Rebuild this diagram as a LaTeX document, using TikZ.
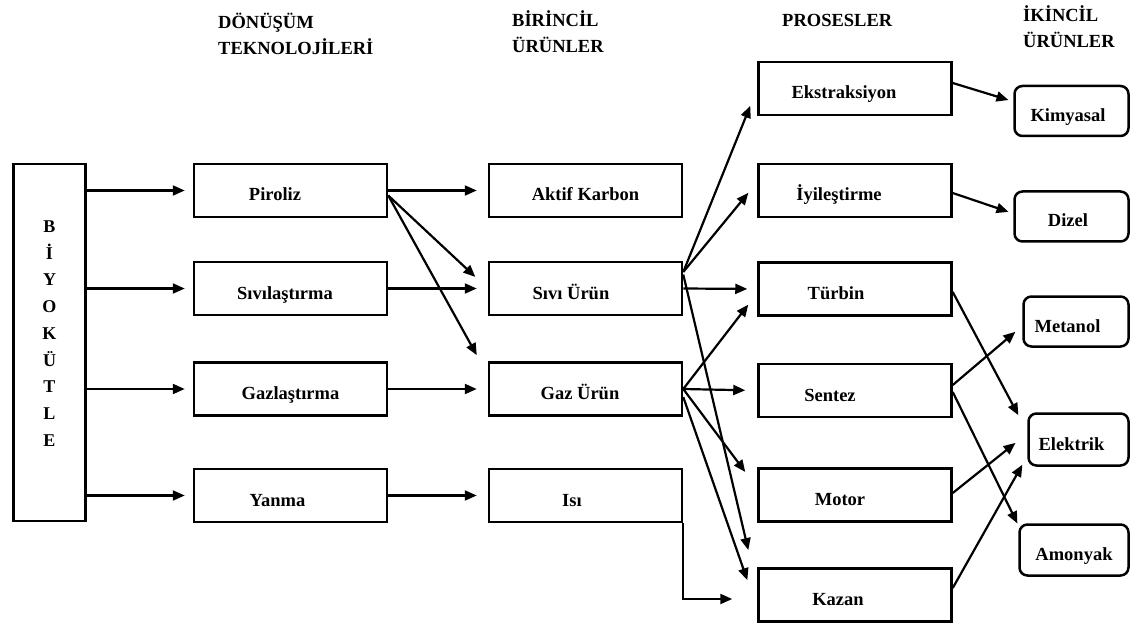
\documentclass[tikz,border=0pt]{standalone}
\usepackage{fontspec}
\setmainfont{Liberation Serif}
\usetikzlibrary{arrows.meta}

\begin{document}
\begin{tikzpicture}[x=1pt,y=-1pt,>={Triangle[length=12pt,width=10pt]},
  techbox/.style={draw,line width=2.5pt,minimum width=193pt,minimum height=53pt,inner sep=0pt,
    text height=21pt,text depth=0pt,font={\bfseries\fontsize{18.5}{20}\selectfont}},
  endbox/.style={draw,line width=2.5pt,rounded corners=8pt,minimum height=50pt,inner sep=0pt,
    text height=21pt,text depth=0pt,font={\bfseries\fontsize{18.5}{20}\selectfont}},
  head/.style={anchor=base west,align=left,inner sep=0pt,font={\bfseries\fontsize{18.5}{26}\selectfont}},
  tleft/.style={execute at begin node={\kern-#1}},
  flow/.style={->,line width=2.2pt,shorten >=#1},
  flow/.default=9pt]
  \useasboundingbox (0,0) rectangle (1134,628);

  % column headers
  \node[head] (hdrdon) at (218,55) {DÖNÜŞÜM\\TEKNOLOJİLERİ};
  \node[head] (hdrbir) at (512,53) {BİRİNCİL\\ÜRÜNLER};
  \node[head] (hdrpro) at (782,27) {PROSESLER};
  \node[head] (hdrikin) at (1023,48) {İKİNCİL\\ÜRÜNLER};

  % biyokutle
  \node[draw,line width=2.5pt,minimum width=72pt,minimum height=357pt,inner sep=0pt,align=center,
    text depth=18pt,font={\bfseries\fontsize{18}{26.75}\selectfont}] (bio) at (49.5,342.5)
    {B\\İ\\Y\\O\\K\\Ü\\T\\L\\E};

  % donusum teknolojileri
  \node[techbox,tleft=31pt] (piroliz) at (290.5,190.5) {Piroliz};
  \node[techbox,tleft=11pt] (sivilas) at (290.5,288.5) {Sıvılaştırma};
  \node[techbox] (gazlas) at (290.5,389) {Gazlaştırma};
  \node[techbox,tleft=26pt] (yanma) at (290.5,495.5) {Yanma};

  % birincil urunler
  \node[techbox] (aktif) at (585.5,190.5) {Aktif Karbon};
  \node[techbox,tleft=29pt] (siviurun) at (585.5,288.5) {Sıvı Ürün};
  \node[techbox,tleft=11pt] (gazurun) at (585.5,389) {Gaz Ürün};
  \node[techbox,tleft=27pt] (isi) at (585.5,495.5) {Isı};

  % prosesler
  \node[techbox,tleft=22pt] (ekstr) at (855,88.5) {Ekstraksiyon};
  \node[techbox,tleft=32pt] (iyiles) at (855,190.5) {İyileştirme};
  \node[techbox,tleft=38pt] (turbin) at (855,289) {Türbin};
  \node[techbox,tleft=50pt] (sentez) at (855,390.5) {Sentez};
  \node[techbox,tleft=30pt] (motor) at (855,495) {Motor};
  \node[techbox,tleft=34pt] (kazan) at (855,595) {Kazan};

  % ikincil urunler
  \node[endbox,minimum width=114pt,tleft=7pt] (kimyasal) at (1071.5,111) {Kimyasal};
  \node[endbox,minimum width=114pt,tleft=7pt] (dizel) at (1071.5,216.5) {Dizel};
  \node[endbox,minimum width=105pt,tleft=17pt] (metanol) at (1076,321.5) {Metanol};
  \node[endbox,minimum width=100pt,minimum height=52pt,tleft=14pt] (elektrik) at (1078.5,439.5) {Elektrik};
  \node[endbox,minimum width=109pt,minimum height=51pt] (amonyak) at (1074,550) {Amonyak};

  % biyokutle -> teknolojiler
  \draw[flow=8pt] (bio.east |- piroliz.west) -- (piroliz.west);
  \draw[flow=8pt] (bio.east |- sivilas.west) -- (sivilas.west);
  \draw[flow=8pt] (bio.east |- gazlas.west) -- (gazlas.west);
  \draw[flow=8pt] (bio.east |- yanma.west) -- (yanma.west);

  % teknolojiler -> birincil urunler
  \draw[flow=11pt] (piroliz.east) -- (aktif.west);
  \draw[flow=11pt] (sivilas.east) -- (siviurun.west);
  \draw[flow=11pt] (gazlas.east) -- (gazurun.west);
  \draw[flow=11pt] (yanma.east) -- (isi.west);
  \draw[flow=17pt] ([yshift=-5pt]piroliz.east) -- (siviurun.west);
  \draw[flow=22.6pt] ([yshift=-5pt]piroliz.east) -- ([yshift=14pt]gazurun.west);

  % birincil urunler -> prosesler
  \draw[flow=18.7pt] ([yshift=16.5pt]siviurun.east) -- (ekstr.west);
  \draw[flow=14pt] ([yshift=16.5pt]siviurun.east) -- ([yshift=8.5pt]iyiles.west);
  \draw[flow=10pt] (siviurun.east) -- (turbin.west);
  \draw[flow=39pt] ([yshift=14pt]siviurun.east) -- ([yshift=7pt]kazan.west);
  \draw[flow=14.7pt] (gazurun.east) -- ([yshift=-4pt]turbin.west);
  \draw[flow=12pt] (gazurun.east) -- (sentez.west);
  \draw[flow=20pt] (gazurun.east) -- ([yshift=7pt]motor.west);
  \draw[flow=30pt] ([yshift=-8pt]gazurun.east) -- ([yshift=-13.5pt]kazan.west);
  \draw[flow=25pt] (isi.south east) |- ([yshift=-4pt]kazan.west);

  % prosesler -> ikincil urunler
  \draw[flow=5pt] ([yshift=5.5pt]ekstr.east) -- ([yshift=9.5pt]kimyasal.west);
  \draw[flow=5pt] ([yshift=-2.5pt]iyiles.east) -- ([yshift=3pt]dizel.west);
  \draw[flow=19pt] ([yshift=-3pt]turbin.east) -- ([yshift=7.5pt]elektrik.west);
  \draw[flow=9pt] ([yshift=5.5pt]sentez.east) -- ([yshift=-4.5pt]metanol.west);
  \draw[flow=2pt] ([yshift=-1.5pt]sentez.east) -- ([yshift=-2pt]amonyak.north west);
  \draw[flow=15pt] ([yshift=2pt]motor.east) -- ([yshift=6pt]elektrik.west);
  \draw[flow=10pt] ([yshift=7pt]kazan.east) -- ([yshift=-16.5pt]elektrik.west);
\end{tikzpicture}
\end{document}
